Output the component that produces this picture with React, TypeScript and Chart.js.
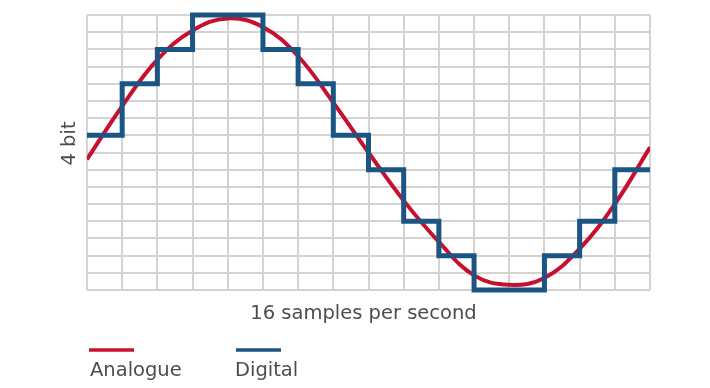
import { useEffect, useRef } from "react";
import { Chart, registerables } from "chart.js";

Chart.register(...registerables);

// ---- data ----
const sampleIndex = [0, 1, 2, 3, 4, 5, 6, 7, 8, 9, 10, 11, 12, 13, 14, 15, 16];
const analogueValues = [7.6, 10.7, 13.4, 15.1, 15.8, 15.3, 13.6, 10.9, 8.0, 5.2, 2.8, 0.85, 0.3, 0.7, 2.4, 5.0, 8.3];
const digitalValues = [9, 12, 14, 16, 16, 14, 12, 9, 7, 4, 2, 0, 0, 2, 4, 7];
const seriesLabels = ["Analogue", "Digital"];
const xAxisTitle = "16 samples per second";
const yAxisTitle = "4 bit";
const levelCount = 16;

const RED = "#c8102e";
const BLUE = "#1b5583";
const GRID = "#d3d3d3";
const TEXT = "#4d4d4d";
const FONT = '19.5px "DejaVu Sans"';

const overlayPlugin = {
  id: "overlay",
  afterDraw(chart: any) {
    const { ctx, chartArea } = chart;
    const { left, right, top, bottom } = chartArea;
    ctx.save();
    ctx.fillStyle = TEXT;
    ctx.font = FONT;
    ctx.textBaseline = "alphabetic";
    // x title
    ctx.textAlign = "center";
    ctx.fillText(xAxisTitle, (left + right) / 2 - 5, bottom + 29);
    // y title
    ctx.save();
    ctx.translate(left - 12, (top + bottom) / 2 - 9);
    ctx.rotate(-Math.PI / 2);
    ctx.fillText(yAxisTitle, 0, 0);
    ctx.restore();
    // legend: line above label
    ctx.textAlign = "left";
    chart.data.datasets.forEach((ds: any, i: number) => {
      const x = left + 2 + i * 147;
      ctx.strokeStyle = ds.borderColor;
      ctx.lineWidth = 3.5;
      ctx.lineCap = "butt";
      ctx.beginPath();
      ctx.moveTo(x, bottom + 60);
      ctx.lineTo(x + 45, bottom + 60);
      ctx.stroke();
      ctx.fillText(ds.label, x + (i === 0 ? 1 : -1), bottom + 86);
    });
    ctx.restore();
  },
};

export default function App() {
  const ref = useRef<HTMLCanvasElement | null>(null);

  useEffect(() => {
    document.body.style.margin = "0";
    if (!ref.current) return;
    const analogue = sampleIndex.map((x, i) => ({ x, y: analogueValues[i] }));
    const digital = digitalValues.map((v, i) => ({ x: i, y: v }));
    digital.push({ x: digitalValues.length, y: digitalValues[digitalValues.length - 1] });

    const chart = new Chart(ref.current, {
      type: "line",
      data: {
        datasets: [
          {
            label: seriesLabels[0],
            data: analogue,
            borderColor: RED,
            borderWidth: 4,
            pointRadius: 0,
            tension: 0.4,
            clip: 0,
            order: 2,
            fill: false,
          },
          {
            label: seriesLabels[1],
            data: digital,
            borderColor: BLUE,
            borderWidth: 5,
            pointRadius: 0,
            stepped: true,
            borderJoinStyle: "miter",
            borderCapStyle: "butt",
            clip: false as any,
            order: 1,
            fill: false,
          },
        ],
      },
      options: {
        responsive: false,
        animation: false,
        devicePixelRatio: 1,
        layout: { padding: { top: 15, right: 60, left: 0, bottom: 0 } },
        plugins: { legend: { display: false }, tooltip: { enabled: false } },
        scales: {
          x: {
            type: "linear",
            min: 0,
            max: levelCount,
            ticks: { display: false, stepSize: 1 },
            grid: { color: GRID, lineWidth: 2, drawTicks: false },
            border: { display: false },
            afterFit: (s: any) => {
              s.height = 98;
            },
          },
          y: {
            type: "linear",
            min: 0,
            max: levelCount,
            ticks: { display: false, stepSize: 1 },
            grid: { color: GRID, lineWidth: 2, drawTicks: false },
            border: { display: false },
            afterFit: (s: any) => {
              s.width = 87;
            },
          },
        },
      },
      plugins: [overlayPlugin],
    });
    return () => chart.destroy();
  }, []);

  return (
    <div style={{ width: 710, height: 388 }}>
      <canvas ref={ref} width={710} height={388} />
    </div>
  );
}
